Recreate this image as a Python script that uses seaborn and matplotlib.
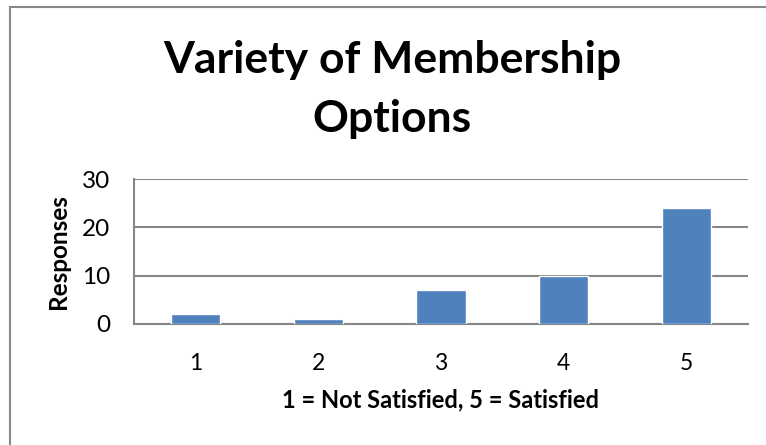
import matplotlib
matplotlib.use("Agg")
import matplotlib.pyplot as plt
import seaborn as sns
import pandas as pd
from matplotlib.patches import Rectangle

# data
ratings = ['1', '2', '3', '4', '5']
responses = [2, 1, 7, 10, 24]
title_lines = ['Variety of Membership', 'Options']

sns.set_style("white")
plt.rcParams['font.family'] = ['Lato', 'DejaVu Sans']
plt.rcParams['text.color'] = 'black'
plt.rcParams['axes.labelcolor'] = 'black'

df = pd.DataFrame({'rating': ratings, 'responses': responses})

fig = plt.figure(figsize=(7.66, 4.45), dpi=100)
ax = fig.add_axes([134/766, 1 - 324/445, (748-134)/766, (324-179)/445])

sns.barplot(data=df, x='rating', y='responses', color='#4F81BD', width=0.4,
            saturation=1, ax=ax, zorder=3)

ax.set_ylim(0, 30)
ax.set_yticks([0, 10, 20, 30])
ax.yaxis.grid(True, color='#868686', linewidth=1.5, zorder=0)
ax.set_axisbelow(True)
for s in ['top', 'right']:
    ax.spines[s].set_visible(False)
ax.spines['left'].set_color('#868686')
ax.spines['bottom'].set_color('#868686')
ax.spines['left'].set_linewidth(1.5)
ax.spines['bottom'].set_linewidth(1.5)
ax.tick_params(axis='both', length=0, colors='black')
ax.tick_params(axis='x', pad=21, labelsize=16.5)
ax.tick_params(axis='y', pad=17, labelsize=17.5)

ax.set_xlabel('1 = Not Satisfied, 5 = Satisfied', fontsize=17, fontweight='bold', labelpad=10)
ax.set_ylabel('Responses', fontsize=17.5, fontweight='bold', labelpad=9)

# two-line title, baselines
fig.text(392/766, 1 - 73/445, title_lines[0], ha='center', va='baseline',
         fontsize=32, fontweight='bold')
fig.text(392/766, 1 - 132/445, title_lines[1], ha='center', va='baseline',
         fontsize=32, fontweight='bold')

# chart border like the spreadsheet frame
fig.patches.append(Rectangle((10/766, -0.1), 1.2, 1.1 - 7/445, transform=fig.transFigure,
                             fill=False, edgecolor='#888888', linewidth=1.5))

fig.savefig('out.png', dpi=100)
